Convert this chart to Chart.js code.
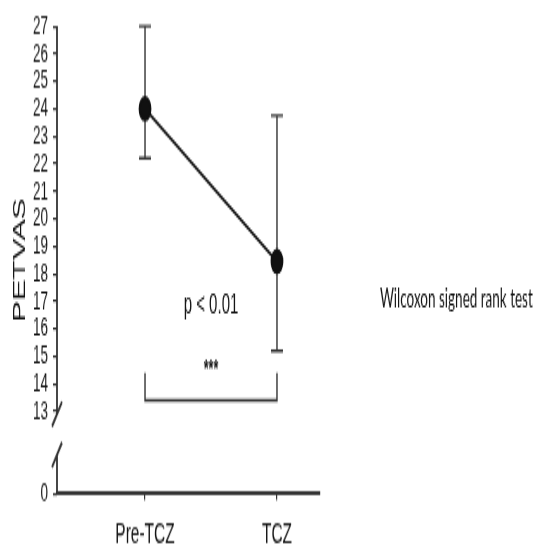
<!DOCTYPE html>
<html>
<head>
<meta charset="utf-8">
<script src="https://cdn.jsdelivr.net/npm/chart.js@4/dist/chart.umd.min.js"></script>
<style>
  html, body { margin: 0; padding: 0; background: #fff; overflow: hidden; }
  /* the original figure is stretched vertically: draw flat, display tall */
  #chart { display: block; width: 536px !important; height: 547px !important; }
</style>
</head>
<body>
<canvas id="chart" width="536" height="274" style="width:536px;height:547px"></canvas>
<script>
// ---- data
const groups = ["Pre-TCZ", "TCZ"];
const means = [24, 18.45];
const lows = [22.2, 15.2];
const highs = [27, 23.75];

// y axis has a break: the "0" tick sits at scale value 10
const yTickValues = [10, 13, 14, 15, 16, 17, 18, 19, 20, 21, 22, 23, 24, 25, 26, 27];
const yTickLabels = ["0", "13", "14", "15", "16", "17", "18", "19", "20", "21", "22", "23", "24", "25", "26", "27"];

const pText = "p < 0.01";
const starText = "***";
const testText = "Wilcoxon signed rank test";

const INK = "#151515";
const FONT = "'Liberation Sans', Arial, sans-serif";

const extras = {
  id: "extras",
  beforeDatasetsDraw(chart) {
    const ctx = chart.ctx, x = chart.scales.x, y = chart.scales.y;
    ctx.save();
    ctx.strokeStyle = "#333";
    ctx.lineWidth = 1.4;
    for (let i = 0; i < groups.length; i++) {
      const px = x.getPixelForValue(i);
      const top = y.getPixelForValue(highs[i]);
      const bot = y.getPixelForValue(lows[i]);
      ctx.beginPath();
      ctx.moveTo(px, top); ctx.lineTo(px, bot);
      ctx.moveTo(px - 6, top); ctx.lineTo(px + 6, top);
      ctx.moveTo(px - 6, bot); ctx.lineTo(px + 6, bot);
      ctx.stroke();
    }
    ctx.restore();
  },
  afterDraw(chart) {
    const ctx = chart.ctx, x = chart.scales.x, y = chart.scales.y;
    const ax = chart.chartArea.left;
    ctx.save();
    ctx.strokeStyle = "#333";
    ctx.lineWidth = 1.8;

    // broken y axis
    ctx.beginPath();
    ctx.moveTo(ax, y.getPixelForValue(27));
    ctx.lineTo(ax, y.getPixelForValue(12.9));
    ctx.moveTo(ax - 5, y.getPixelForValue(12.45));
    ctx.lineTo(ax + 5, y.getPixelForValue(13.35));
    ctx.moveTo(ax - 5, y.getPixelForValue(10.97));
    ctx.lineTo(ax + 5, y.getPixelForValue(11.87));
    ctx.moveTo(ax, y.getPixelForValue(11.42));
    ctx.lineTo(ax, y.getPixelForValue(10));
    ctx.stroke();

    // significance bracket
    const b0 = x.getPixelForValue(0), b1 = x.getPixelForValue(1);
    const by = y.getPixelForValue(13.4), bt = y.getPixelForValue(14.4);
    ctx.lineWidth = 1.4;
    ctx.beginPath();
    ctx.moveTo(b0, bt); ctx.lineTo(b0, by); ctx.lineTo(b1, by); ctx.lineTo(b1, bt);
    ctx.stroke();

    ctx.fillStyle = INK;
    ctx.textAlign = "center";
    ctx.textBaseline = "middle";
    ctx.font = "15px " + FONT;
    ctx.fillText(pText, x.getPixelForValue(0.5), y.getPixelForValue(16.85));
    ctx.font = "bold 12.5px " + FONT;
    ctx.fillText(starText, x.getPixelForValue(0.5), y.getPixelForValue(14.5));

    ctx.textAlign = "left";
    ctx.font = "13.5px Lato, 'Open Sans', sans-serif";
    ctx.fillText(testText, x.getPixelForValue(1.78), y.getPixelForValue(17.1));
    ctx.restore();
  }
};

new Chart(document.getElementById("chart"), {
  type: "line",
  data: {
    datasets: [{
      data: groups.map(function (g, i) { return { x: i, y: means[i] }; }),
      borderColor: INK,
      borderWidth: 1.8,
      backgroundColor: "#111",
      pointBackgroundColor: "#111",
      pointBorderColor: "#111",
      pointRadius: 5.5,
      pointHoverRadius: 5.5,
      clip: false
    }]
  },
  options: {
    responsive: false,
    devicePixelRatio: 1,
    animation: false,
    events: [],
    layout: { padding: { top: 11, right: 216, bottom: 0, left: 0 } },
    plugins: { legend: { display: false }, tooltip: { enabled: false } },
    scales: {
      x: {
        type: "linear",
        min: -0.667,
        max: 1.326,
        afterBuildTicks: function (scale) {
          scale.ticks = groups.map(function (g, i) { return { value: i }; });
        },
        afterFit: function (scale) { scale.height = 26.6; },
        ticks: {
          autoSkip: false,
          maxRotation: 0,
          padding: 8,
          color: INK,
          font: { family: FONT, size: 15.5 },
          callback: function (v) { return groups[v]; }
        },
        grid: { drawOnChartArea: false, tickLength: 3, color: "#333", lineWidth: 1.2 },
        border: { display: true, color: "#333", width: 2 }
      },
      y: {
        type: "linear",
        min: 10,
        max: 27,
        afterBuildTicks: function (scale) {
          scale.ticks = yTickValues.map(function (v) { return { value: v }; });
        },
        afterFit: function (scale) { scale.width = 57; },
        ticks: {
          autoSkip: false,
          padding: 5,
          color: INK,
          font: { family: FONT, size: 13.5 },
          callback: function (v) { return yTickLabels[yTickValues.indexOf(v)]; }
        },
        grid: { drawOnChartArea: false, tickLength: 4, color: "#333", lineWidth: 1.2 },
        border: { display: false },
        title: {
          display: true,
          text: "PETVAS",
          color: INK,
          padding: { top: 11, bottom: 0 },
          font: { family: FONT, size: 16 }
        }
      }
    }
  },
  plugins: [extras]
});
</script>
</body>
</html>
